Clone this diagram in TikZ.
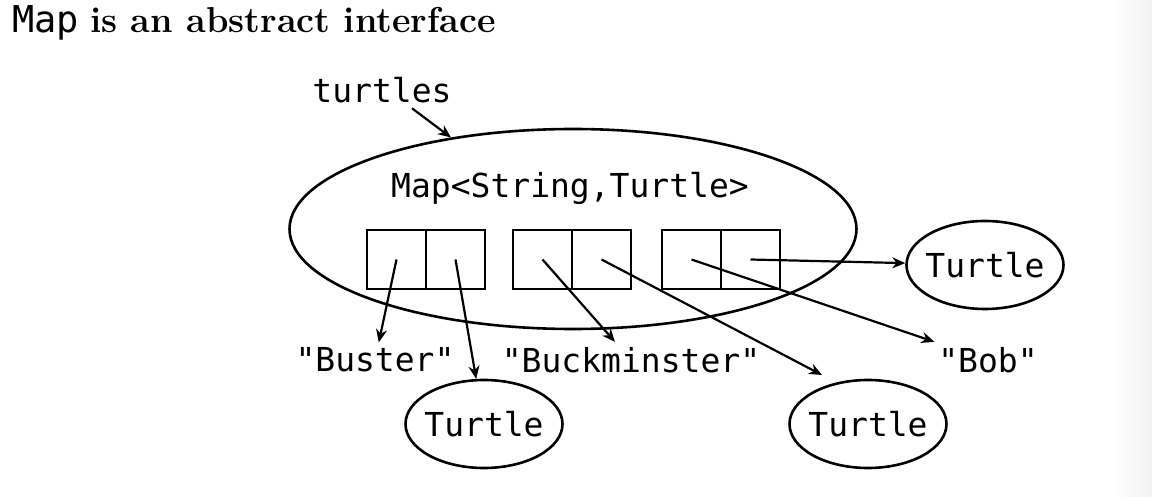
\documentclass[tikz,border=0pt]{standalone}
\usepackage{fontspec}
\newfontfamily\codefont{DejaVu Sans Mono}
\usetikzlibrary{arrows.meta,shapes.geometric}

\begin{document}
\begin{tikzpicture}[
  x=0.5pt,y=-0.5pt,
  code/.style={
    font=\codefont\fontsize{16.5}{18}\selectfont,
    inner sep=2.5pt
  },
  mapshape/.style={
    draw,
    ellipse,
    line width=1.3pt,
    inner sep=0pt,
    minimum width=283.5pt,
    minimum height=100pt
  },
  obj/.style={
    code,
    draw,
    ellipse,
    line width=1.3pt,
    inner sep=0pt,
    minimum width=78.5pt,
    minimum height=44pt
  },
  cell/.style={
    draw,
    line width=1.3pt,
    inner sep=0pt,
    outer sep=0pt,
    minimum width=29.5pt,
    minimum height=29.5pt
  },
  ref/.style={line width=1.1pt,-{Stealth[length=6.5pt,width=5.5pt]}}
]
  \useasboundingbox (0,0) rectangle (1152,497);
  \shade[left color=white,right color=black!5] (1110,0) rectangle (1152,497);

  % Title line
  \node[anchor=base west,inner sep=0pt,font=\fontsize{18}{20}\selectfont] (title) at (12,33)
    {{\codefont\fontsize{18.5}{20}\selectfont Map} \textbf{is an abstract interface}};

  % The map object and its entries
  \node[mapshape] (map) at (573,229) {};
  \node[code] (maptype) at (570,188) {Map<String,Turtle>};
  \node[code] (turtles) at (382,90) {turtles};
  \foreach \i/\x in {1/396.5,2/542.5,3/691.5} {
    \node[cell] (key\i) at (\x,259.5) {};
    \node[cell,anchor=west] (val\i) at (key\i.east) {};
  }

  % Keys and values
  \node[code] (buster) at (375,360) {"Buster"};
  \node[code] (buck) at (631,360) {"Buckminster"};
  \node[code] (bob) at (988,360) {"Bob"};
  \node[obj] (turtle1) at (484,424) {\makebox[0pt]{Turtle}};
  \node[obj] (turtle2) at (985,265) {\makebox[0pt]{Turtle}};
  \node[obj] (turtle3) at (868,424) {\makebox[0pt]{Turtle}};
  \coordinate (tip3) at (822,375);

  \draw[ref] ([xshift=15pt]turtles.south) -- (map);
  \draw[ref] (key1.center) -- (buster);
  \draw[ref] (val1.center) -- (turtle1);
  \draw[ref] (key2.center) -- (buck);
  \draw[ref] (val2.center) -- (tip3);
  \draw[ref] (key3.center) -- (bob);
  \draw[ref] (val3.center) -- (turtle2);
\end{tikzpicture}
\end{document}
